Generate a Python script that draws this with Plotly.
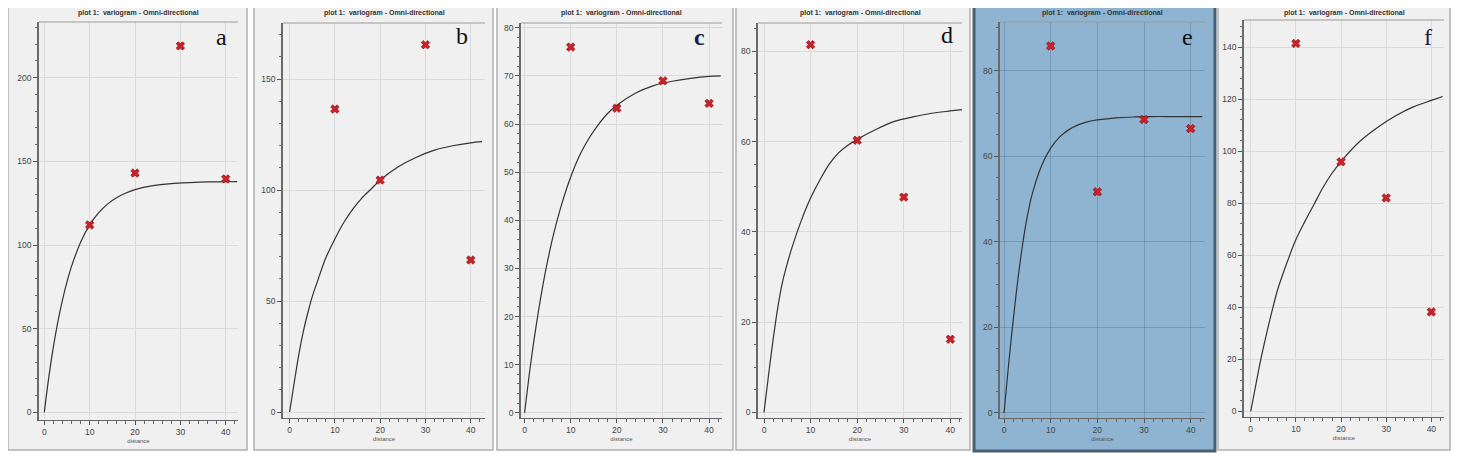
import plotly.graph_objects as go

# experimental variogram lags
lag = [10, 20, 30, 40]

# experimental points, panels a..f
exp_a = [112, 143, 219, 139.5]
exp_b = [136.5, 104.5, 165.5, 68.5]
exp_c = [76, 63.3, 69, 64.3]
exp_d = [81.5, 60.3, 47.7, 16.2]
exp_e = [85.8, 51.7, 68.6, 66.5]
exp_f = [141.4, 95.9, 82, 38.2]

# fitted model curves
model_dist = [0, 1, 2, 3, 4, 5, 6, 8, 10, 12, 14, 16, 18, 20, 24, 28, 32, 36, 40, 42.5]
model_a = [0, 21.2, 39.1, 54.3, 67.1, 78.0, 87.2, 101.6, 112, 119.3, 124.6, 128.4, 131.1, 133.1, 135.5, 136.7, 137.3, 137.7, 137.8, 137.9]
model_b = [0, 13, 25.5, 36, 44.5, 52, 58, 69.5, 78, 85.5, 91.5, 96.5, 100.5, 104.5, 110.5, 114.8, 118, 120, 121.3, 121.8]
model_c = [0, 7.9, 14.9, 21.1, 26.7, 31.6, 36, 43.2, 49, 53.6, 57.1, 59.9, 62.2, 63.9, 66.4, 68, 68.9, 69.5, 69.9, 70]
model_d = [0, 8.5, 16.5, 23.5, 29, 33, 36.5, 42.5, 47.5, 51.5, 55, 57.5, 59.2, 60.5, 62.7, 64.5, 65.5, 66.3, 66.8, 67.1]
model_e = [0, 11.5, 22, 31.5, 39.5, 46, 51, 57.7, 61.9, 64.6, 66.3, 67.4, 68.1, 68.5, 69, 69.2, 69.3, 69.3, 69.3, 69.3]
model_f = [0, 9, 18, 26, 33.5, 40.5, 47, 57, 66, 73, 79.5, 86, 91.5, 96, 103.5, 109, 113.5, 117, 119.5, 121]

letters = ["a", "b", "<b>c</b>", "d", "e", "f"]
x_ticks = [0, 10, 20, 30, 40]

# the page body has an 8px margin, so the figure is shrunk and shifted to fit
OFF = 8
W, H = 1461 - OFF, 459 - OFF

def px(x):
    return max(0.0, (x - OFF) / W)

def py(y):
    return 1 - (y - OFF) / H

# panel geometry in window pixels: frame box, plot box, axis ranges, tick steps
panels = [
    dict(frame=(2, 3, 247, 450), plot=(39, 22, 238, 420), xr=[-1.17, 42.7], yr=[-4.6, 233.3],
         dt=50, mdt=10, blue=False, letter_xy=(221, 37), lc="#111111"),
    dict(frame=(254, 3, 493, 450), plot=(283, 23, 485, 418), xr=[-1.46, 43.15], yr=[-2.7, 175.3],
         dt=50, mdt=10, blue=False, letter_xy=(462, 36), lc="#111111"),
    dict(frame=(497, 3, 733, 450), plot=(521, 23, 722, 418), xr=[-0.78, 42.8], yr=[-1.08, 81],
         dt=10, mdt=2, blue=False, letter_xy=(699, 37), lc="#1b1f4a"),
    dict(frame=(736, 3, 970, 450), plot=(758, 23, 962, 418), xr=[-1.29, 42.5], yr=[-1.26, 86.3],
         dt=20, mdt=5, blue=False, letter_xy=(947, 35), lc="#111111"),
    dict(frame=(974, 5, 1215, 451), plot=(1000, 22, 1205, 418), xr=[-0.86, 43.07], yr=[-1.17, 91.4],
         dt=20, mdt=5, blue=True, letter_xy=(1187, 37), lc="#111111"),
    dict(frame=(1218, 3, 1450, 450), plot=(1244, 20, 1444, 417), xr=[-1.49, 42.8], yr=[-2.2, 150.4],
         dt=20, mdt=4, blue=False, letter_xy=(1428, 37), lc="#1a1a4a"),
]

exps = [exp_a, exp_b, exp_c, exp_d, exp_e, exp_f]
models = [model_a, model_b, model_c, model_d, model_e, model_f]

fig = go.Figure()
shapes = []
annotations = []
axes = {}

for i, p in enumerate(panels):
    n = "" if i == 0 else str(i + 1)
    fx0, fy0, fx1, fy1 = p["frame"]
    l, t, r, b = p["plot"]
    bg = "#8fb4d1" if p["blue"] else "#f0f0f0"
    grid = "rgba(60,95,125,0.30)" if p["blue"] else "#dadada"

    # panel frame
    shapes.append(dict(type="rect", xref="paper", yref="paper",
                       x0=px(fx0), x1=px(fx1), y0=py(fy1), y1=py(fy0),
                       fillcolor=bg,
                       line=dict(color="#4b5f70" if p["blue"] else "#b0b0b0",
                                 width=3 if p["blue"] else 1.5),
                       layer="below"))
    # top edge of plot area
    shapes.append(dict(type="line", xref="paper", yref="paper",
                       x0=px(l), x1=px(r), y0=py(t), y1=py(t),
                       line=dict(color="#9a9a9a", width=1)))

    fig.add_trace(go.Scatter(x=model_dist, y=models[i], mode="lines",
                             xaxis="x" + n, yaxis="y" + n,
                             line=dict(color="#333333", width=1.2, shape="spline", smoothing=0.8),
                             hoverinfo="skip", showlegend=False))
    fig.add_trace(go.Scatter(x=lag, y=exps[i], mode="markers",
                             xaxis="x" + n, yaxis="y" + n,
                             marker=dict(symbol="x", size=7.5, color="#d0202a",
                                         line=dict(width=0.6, color="#7a0000")),
                             showlegend=False))

    axes["xaxis" + n] = dict(
        domain=[px(l), px(r)], range=p["xr"], anchor="y" + n,
        tickvals=x_ticks, ticks="outside", ticklen=4, tickcolor="#555",
        minor=dict(dtick=2, ticks="outside", ticklen=2.5, tickcolor="#666", showgrid=False),
        showline=True, linecolor="#666", linewidth=1.2,
        showgrid=True, gridcolor=grid, zeroline=False,
        tickfont=dict(family="Liberation Sans", size=8.5, color="#444"),
        title=dict(text="distance", font=dict(family="Liberation Sans", size=6, color="#555"),
                   standoff=2),
    )
    axes["yaxis" + n] = dict(
        domain=[py(b), py(t)], range=p["yr"], anchor="x" + n,
        dtick=p["dt"], tick0=0, ticks="outside", ticklen=4, tickcolor="#555",
        minor=dict(dtick=p["mdt"], ticks="outside", ticklen=2.5, tickcolor="#666", showgrid=False),
        showline=True, linecolor="#6a6a6a", linewidth=1.6,
        showgrid=True, gridcolor=grid, zeroline=False,
        tickfont=dict(family="Liberation Sans", size=8.5, color="#444"),
    )

    annotations.append(dict(text="<b>plot 1:  variogram - Omni-directional</b>",
                            xref="paper", yref="paper", x=px((l + r) / 2), y=py(13),
                            xanchor="center", yanchor="middle", showarrow=False,
                            font=dict(family="Liberation Sans", size=7, color="#333")))
    lx, ly = p["letter_xy"]
    annotations.append(dict(text=letters[i], xref="paper", yref="paper",
                            x=px(lx), y=py(ly), xanchor="center", yanchor="middle",
                            showarrow=False,
                            font=dict(family="Liberation Serif", size=24, color=p["lc"])))

fig.update_layout(
    width=W, height=H, autosize=False,
    margin=dict(l=0, r=0, t=0, b=0),
    paper_bgcolor="white", plot_bgcolor="rgba(0,0,0,0)",
    shapes=shapes, annotations=annotations,
    **axes,
)

fig.write_html("out.html")
